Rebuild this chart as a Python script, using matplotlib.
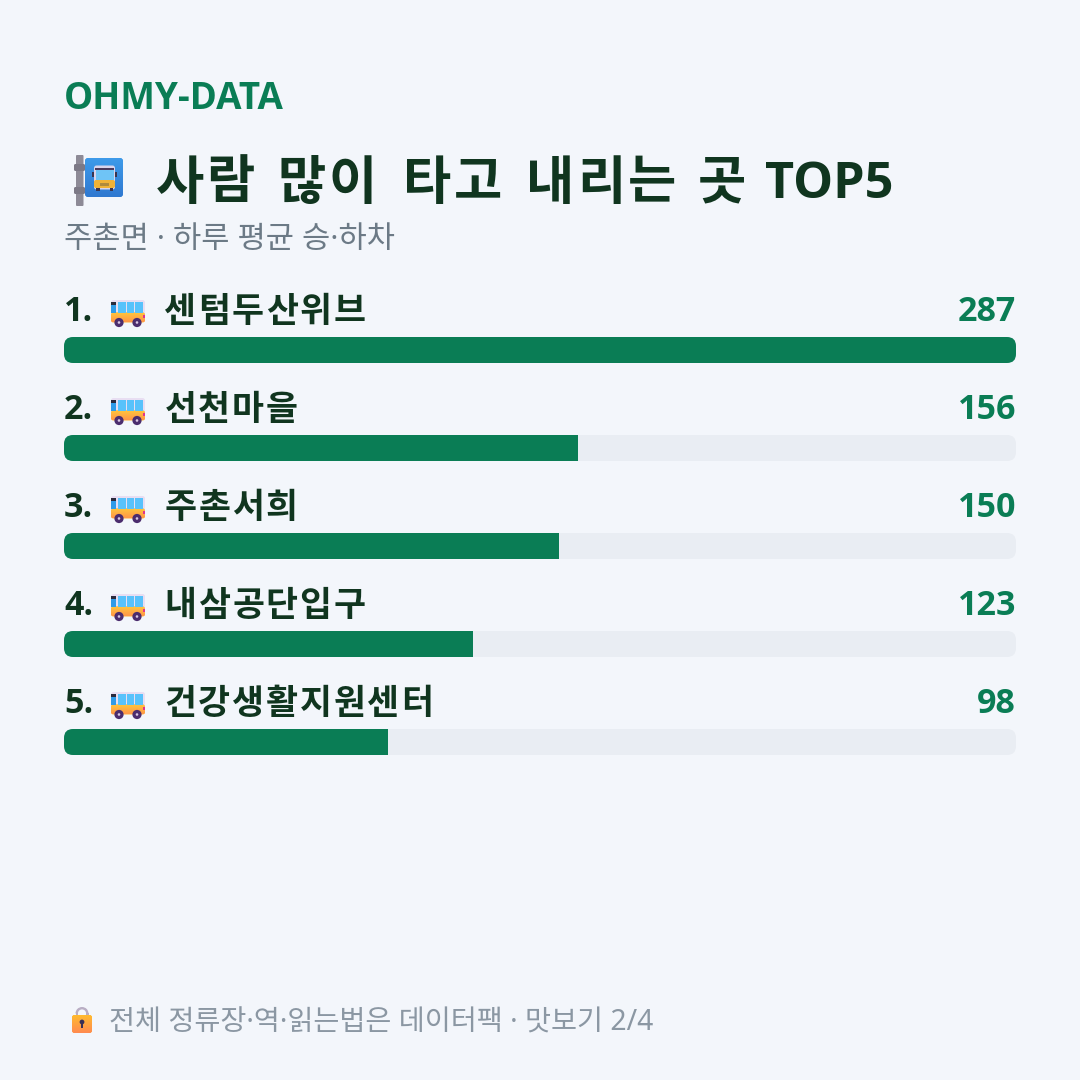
import numpy as np
import matplotlib
matplotlib.use("Agg")
import matplotlib.pyplot as plt
from matplotlib.patches import FancyBboxPatch, Rectangle, Circle, Wedge
from matplotlib.colors import LinearSegmentedColormap

ranks = [1, 2, 3, 4, 5]
stops = ["센텀두산위브", "선천마을", "주촌서희", "내삼공단입구", "건강생활지원센터"]
riders = [287, 156, 150, 123, 98]
title_words = ["사람", "많이", "타고", "내리는", "곳"]
title_starts = [154.5, 276.5, 402, 525, 697]

BG = "#f3f6fb"
GREEN = "#0a7d55"
DARK = "#10351f"
GREY = "#6c7a86"
SOFT = "#8b97a3"
TRACK = "#e9edf3"
FONT = ["Noto Sans", "Noto Sans CJK KR", "DejaVu Sans"]
BOLD = ["Open Sans", "Noto Sans CJK KR", "DejaVu Sans"]

plt.rcParams["font.family"] = FONT
SIZE = 1080
fig = plt.figure(figsize=(10.8, 10.8), dpi=100, facecolor=BG)

# Pixel-space layer for text and icons
page = fig.add_axes([0, 0, 1, 1], zorder=2)
page.set_xlim(0, SIZE)
page.set_ylim(SIZE, 0)
page.axis("off")
page.patch.set_alpha(0)

# Bar layer: one row per stop, x in percent of the largest stop
ROW = 98
TOP = 337
BAR_H = 26
L, R = 64, 1016
n = len(stops)
bottom_px = TOP + ROW * n
bars = fig.add_axes([L / SIZE, 1 - bottom_px / SIZE, (R - L) / SIZE, ROW * n / SIZE], zorder=1)
bars.set_xlim(0, 100)
bars.set_ylim(n, 0)
bars.axis("off")
bars.patch.set_alpha(0)

x_px = (R - L) / 100
y_px = ROW
bar_h = BAR_H / ROW
radius = 9 / x_px
shares = [round(v / max(riders) * 100) for v in riders]
for i, share in enumerate(shares):
    track = FancyBboxPatch((0, i), 100, bar_h,
                           boxstyle=f"round,pad=0,rounding_size={radius}",
                           mutation_aspect=x_px / y_px,
                           fc=TRACK, ec="none")
    bars.add_patch(track)
    fill = bars.barh(i + bar_h / 2, share, height=bar_h, color=GREEN, lw=0)[0]
    fill.set_clip_path(track)


def gradient(ax, box, top, bot, clip, z=3):
    cmap = LinearSegmentedColormap.from_list("g", [top, bot])
    im = ax.imshow(np.linspace(0, 1, 64)[:, None], extent=(box[0], box[2], box[3], box[1]),
                   cmap=cmap, aspect="auto", zorder=z, interpolation="bilinear")
    im.set_clip_path(clip)
    return im


def rbox(ax, x, y, w, h, r, fc, z=4):
    p = FancyBboxPatch((x, y), w, h, boxstyle=f"round,pad=0,rounding_size={r}",
                       fc=fc, ec="none", zorder=z)
    ax.add_patch(p)
    return p


def rect(ax, x, y, w, h, fc, z):
    ax.add_patch(Rectangle((x, y), w, h, fc=fc, ec="none", zorder=z))


def bus_icon(ax, x, y):
    """Small side-view bus; (x, y) is the top-left corner of its 34x27 cell."""
    rbox(ax, x, y, 34, 22, 2.5, "#e8def2", 4)
    low = rbox(ax, x, y + 12.5, 34, 10, 2.5, "#ffb032", 5)
    gradient(ax, (x, y + 12.5, x + 34, y + 22.5), "#ffc83c", "#ff9648", low, 6)
    rect(ax, x, y + 2, 5, 3, "#2a2a3c", 7)
    rect(ax, x, y + 5, 5, 8, "#2f9be8", 7)
    for wx in (7, 15.5, 24):
        rect(ax, x + wx, y + 2, 7.5, 11, "#58c2fb", 7)
    rect(ax, x + 32, y + 15, 2, 3, "#e0358c", 8)
    for wx in (8, 26):
        ax.add_patch(Circle((x + wx, y + 22.5), 4.6, fc="#4b2d6e", ec="none", zorder=9))
        ax.add_patch(Circle((x + wx, y + 22.5), 1.3, fc="#d9c8e4", ec="none", zorder=10))


def stop_icon(ax, x, y):
    """Bus-stop sign on a pole; (x, y) is the top-left corner of its cell."""
    rbox(ax, x + 2, y, 7.5, 51, 1, "#8d8a96", 4)
    rbox(ax, x, y + 9, 11, 7, 1.5, "#7c7986", 5)
    rbox(ax, x, y + 32, 11, 7, 1.5, "#7c7986", 5)
    plate = rbox(ax, x + 11, y + 3, 38, 39, 3.5, "#3a8fe0", 5)
    gradient(ax, (x + 11, y + 3, x + 49, y + 42), "#3e9bea", "#2f78d0", plate, 6)
    rbox(ax, x + 20, y + 10.5, 21, 24, 2.5, "#d9d4ec", 7)
    rect(ax, x + 21, y + 13, 19, 2, "#4a3a5c", 8)
    rect(ax, x + 21.5, y + 15, 18, 10, "#6fc4f6", 8)
    rbox(ax, x + 20, y + 25, 21, 8, 2, "#f0b338", 8)
    rect(ax, x + 26, y + 28, 9, 2.5, "#b08a3c", 9)
    rect(ax, x + 18, y + 17, 1.8, 5, "#3a3550", 7)
    rect(ax, x + 41.2, y + 17, 1.8, 5, "#3a3550", 7)
    rect(ax, x + 22, y + 33, 3.5, 2.5, "#3a3550", 7)
    rect(ax, x + 35.5, y + 33, 3.5, 2.5, "#3a3550", 7)


def lock_icon(ax, x, y):
    """Closed padlock; (x, y) is the top-left corner of its cell."""
    ax.add_patch(Wedge((x + 10, y + 6.5), 6.5, 180, 360, width=2.4, fc="#b9aec4", ec="none", zorder=4))
    rect(ax, x + 3.5, y + 6, 2.4, 4, "#b9aec4", 4)
    rect(ax, x + 14.1, y + 6, 2.4, 4, "#b9aec4", 4)
    case = rbox(ax, x, y + 8, 20, 18, 2.5, "#ffb02e", 5)
    gradient(ax, (x, y + 8, x + 20, y + 26), "#ffbb2e", "#ff8a50", case, 6)
    ax.add_patch(Circle((x + 10, y + 15), 2.4, fc="#3a2f55", ec="none", zorder=7))
    rect(ax, x + 9, y + 15, 2, 5.5, "#3a2f55", 7)


def px(size):
    return size * 0.72


def tracked(ax, x, base, word, size, pitch, color):
    """Hangul set on a fixed pitch, each syllable centred in its cell."""
    for k, ch in enumerate(word):
        ax.text(x + pitch * (k + 0.5), base, ch, fontsize=px(size), family=BOLD,
                fontweight="bold", color=color, ha="center", va="baseline")


# Header
page.text(64, 109, "OHMY-DATA", fontsize=px(36.8), family=BOLD, fontweight="bold", color=GREEN, va="baseline")
stop_icon(page, 74, 155)
for word, start in zip(title_words, title_starts):
    tracked(page, start, 198.5, word, 52.5, 50.7, DARK)
page.text(765, 198, "TOP5", fontsize=px(50.4), family=BOLD, fontweight="bold", color=DARK, va="baseline")
page.text(64, 248.5, "주촌면 · 하루 평균 승·하차", fontsize=px(30.7), color=GREY, va="baseline")

# Row labels
for i, (rank, name, value) in enumerate(zip(ranks, stops, riders)):
    base = 321 + ROW * i
    page.text(64, base, f"{rank}.", fontsize=px(34), family=BOLD, fontweight="bold", color=DARK, va="baseline")
    bus_icon(page, 111, base - 21)
    tracked(page, 163.5, base + 1, name, 34.8, 33.8, DARK)
    page.text(1016, base, str(value), fontsize=px(34), family=BOLD, fontweight="bold", color=GREEN,
              ha="right", va="baseline")

# Footer
lock_icon(page, 72, 1007)
page.text(109, 1030.5, "전체 정류장·역·읽는법은 데이터팩 · 맛보기 2/4", fontsize=px(28.3), color=SOFT, va="baseline")

page.set_xlim(0, SIZE)
page.set_ylim(SIZE, 0)
fig.savefig("out.png", dpi=100, facecolor=BG)
